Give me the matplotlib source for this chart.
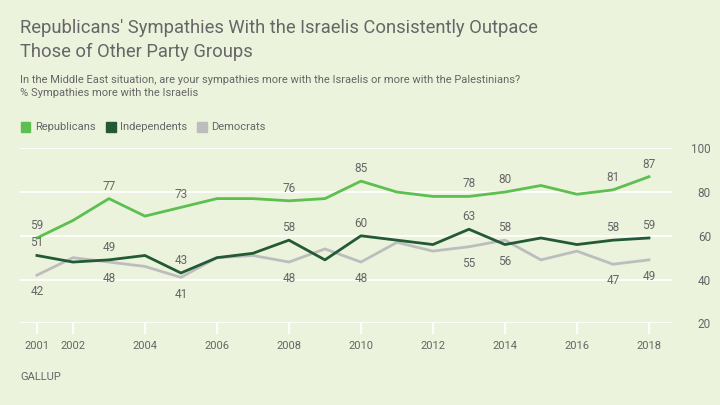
import matplotlib
matplotlib.use("Agg")
import matplotlib.pyplot as plt
from matplotlib.patches import Rectangle

plt.rcParams['font.family'] = ['Roboto', 'DejaVu Sans']

# Data
years = list(range(2001, 2019))
republicans = [59, 67, 77, 69, 73, 77, 77, 76, 77, 85, 80, 78, 78, 80, 83, 79, 81, 87]
independents = [51, 48, 49, 51, 43, 50, 52, 58, 49, 60, 58, 56, 63, 56, 59, 56, 58, 59]
democrats = [42, 50, 48, 46, 41, 50, 51, 48, 54, 48, 57, 53, 55, 58, 49, 53, 47, 49]
labeled_years = [2001, 2003, 2005, 2008, 2010, 2013, 2014, 2017, 2018]
x_ticks = [2001, 2002, 2004, 2006, 2008, 2010, 2012, 2014, 2016, 2018]
y_ticks = [20, 40, 60, 80, 100]

bg = '#EBF3DD'
c_rep = '#5CBF4F'
c_ind = '#235A35'
c_dem = '#BDBDBD'
txt = '#666666'

fig = plt.figure(figsize=(7.2, 4.05), dpi=100, facecolor=bg)
ax = fig.add_axes([20 / 720, 1 - 323.3 / 405, 652 / 720, 175 / 405])
ax.set_facecolor(bg)

for y in y_ticks:
    ax.axhline(y, color='white', lw=1.3, zorder=1)

ax.plot(years, democrats, color=c_dem, lw=2, zorder=2)
ax.plot(years, independents, color=c_ind, lw=2, zorder=3)
ax.plot(years, republicans, color=c_rep, lw=2, zorder=4)

ax.set_xlim(2000.53, 2018.64)
ax.set_ylim(20, 100)
for s in ax.spines.values():
    s.set_visible(False)
ax.set_yticks(y_ticks)
ax.yaxis.tick_right()
ax.tick_params(axis='y', length=0, pad=28, labelsize=8.5, labelcolor=txt)
for lab in ax.get_yticklabels():
    lab.set_horizontalalignment('right')
ax.set_xticks(x_ticks)
ax.tick_params(axis='x', length=8, width=1.3, color='white', pad=5,
               labelsize=8, labelcolor=txt)


def label(year, value, above):
    off = 9 if above else -12
    ax.annotate(str(value), (year, value), xytext=(0, off),
                textcoords='offset points', ha='center', va='center',
                fontsize=8.5, color=txt, zorder=5)


for yr in labeled_years:
    i = years.index(yr)
    label(yr, republicans[i], True)
    ind, dem = independents[i], democrats[i]
    label(yr, ind, ind >= dem)
    label(yr, dem, dem > ind)

# Title, subtitle, legend, source
fig.text(20 / 720, 1 - 28 / 405, "Republicans' Sympathies With the Israelis Consistently Outpace",
         fontsize=13.2, color=txt, va='center')
fig.text(20 / 720, 1 - 52 / 405, "Those of Other Party Groups",
         fontsize=13.2, color=txt, va='center')
fig.text(20 / 720, 1 - 80 / 405,
         "In the Middle East situation, are your sympathies more with the Israelis or more with the Palestinians?",
         fontsize=8, color=txt, va='center')
fig.text(20 / 720, 1 - 93.5 / 405, "% Sympathies more with the Israelis",
         fontsize=8, color=txt, va='center')

legend_items = [("Republicans", c_rep, 20.5), ("Independents", c_ind, 106), ("Democrats", c_dem, 197)]
for name, col, x0 in legend_items:
    fig.patches.append(Rectangle((x0 / 720, 1 - 131.5 / 405), 9.5 / 720, 9.5 / 405,
                                 transform=fig.transFigure, color=col))
    fig.text((x0 + 14.5) / 720, 1 - 126.7 / 405, name, fontsize=8, color=txt, va='center')

fig.text(20 / 720, 1 - 377 / 405, "GALLUP", fontsize=8, color=txt, va='center')

fig.savefig('out.png', dpi=100, facecolor=bg)
